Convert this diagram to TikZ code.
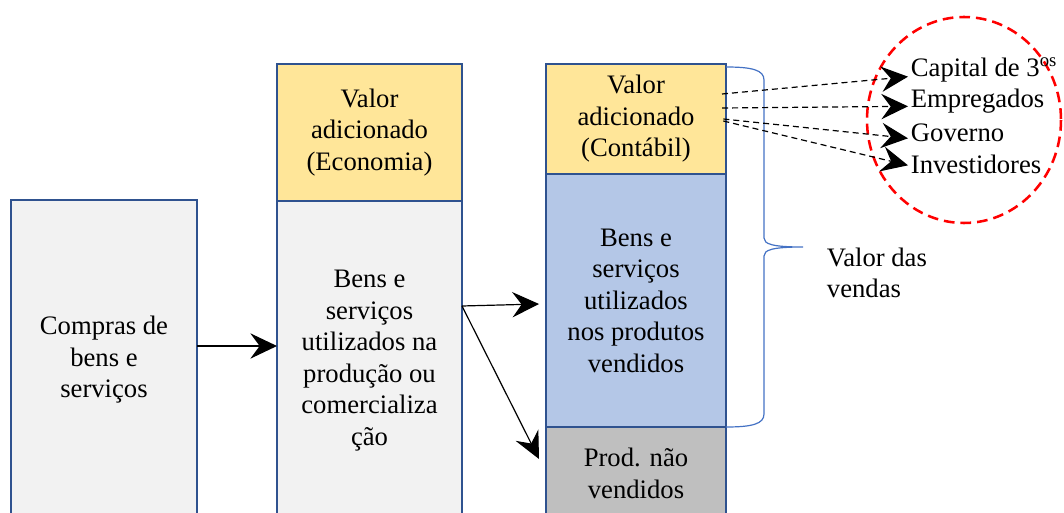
\documentclass[tikz,border=0pt]{standalone}
\usepackage{fontspec}
\setmainfont{Liberation Serif}
\newfontfamily\timesface{Liberation Serif}
\usetikzlibrary{arrows.meta}

\definecolor{edgeblue}{HTML}{2F528F}
\definecolor{paleGray}{HTML}{F2F2F2}
\definecolor{vaYellow}{HTML}{FFE699}
\definecolor{usedBlue}{HTML}{B4C7E7}
\definecolor{stockGray}{HTML}{BFBFBF}
\definecolor{braceBlue}{HTML}{4472C4}

\tikzset{
  box/.style={draw=edgeblue, line width=1.8pt, rectangle, inner sep=0pt, outer sep=0pt,
    align=center, anchor=north west, font=\timesface\fontsize{20}{23.6}\selectfont},
  arr/.style={-{Stealth[length=20pt,width=19pt,inset=7pt]}, line width=0.9pt},
  darr/.style={arr, dash pattern=on 4.5pt off 3pt},
  sideText/.style={anchor=west, inner sep=2pt, font=\timesface\fontsize{20}{23.6}\selectfont},
}

\begin{document}
\begin{tikzpicture}[x=0.75pt, y=-0.75pt]
\useasboundingbox (0,0) rectangle (1064,513);
\clip (0,0) rectangle (1064,513);

% boxes
\node[box, fill=paleGray, minimum width=139.5pt, minimum height=240pt] (compras) at (11,200) {Compras de\\bens e\\serviços};
\node[box, fill=vaYellow, minimum width=138.75pt, minimum height=102.75pt] (vaEco) at (277,64) {Valor\\adicionado\\(Economia)};
\node[box, fill=paleGray, minimum width=138.75pt, minimum height=239.25pt] (bensEco) at (277,201) {Bens e\\serviços\\utilizados na\\produção ou\\comercializa\\ção};
\node[box, fill=vaYellow, minimum width=135pt, minimum height=82.5pt] (vaCont) at (546,64) {Valor\\adicionado\\(Contábil)};
\node[box, fill=usedBlue, minimum width=135pt, minimum height=189.75pt] (bensCont) at (546,174) {Bens e\\serviços\\utilizados\\nos produtos\\vendidos};
\node[box, fill=stockGray, minimum width=135pt, minimum height=69.75pt] (naoVend) at (546,427) {Prod. não\\vendidos};

% brace and sales value
\draw[braceBlue, line width=0.9pt] (726,67) .. controls (752,67) and (764,70) .. (764,80) -- (764,238)
  .. controls (764,244) and (772,247) .. (803,247) .. controls (772,247) and (764,250) .. (764,256)
  -- (764,414) .. controls (764,424) and (752,427) .. (726,427);
\node[sideText, align=left] (vendas) at (824,273) {Valor das\\vendas};

% destination of value added
\draw[red, line width=1.9pt, dash pattern=on 8pt off 4.5pt] (964,120) ellipse [x radius=97, y radius=103];
\node[sideText] (cap) at (908,70) {Capital de 3\textsuperscript{os}};
\node[sideText] (emp) at (908,101) {Empregados};
\node[sideText] (gov) at (908,133) {Governo};
\node[sideText] (inv) at (908,164) {Investidores};

\draw[darr] ([xshift=-3pt, yshift=18.75pt]vaCont.east) -- ([yshift=-5pt]cap.west);
\draw[darr] ([xshift=-3pt, yshift=8.25pt]vaCont.east) -- ([yshift=-4pt]emp.west);
\draw[darr] ([xshift=-2pt]vaCont.east) -- ([yshift=-4pt]gov.west);
\draw[darr] ([xshift=-2pt, yshift=-1.5pt]vaCont.east) -- ([yshift=-1pt]inv.west);

% flows
\coordinate (fork) at (bensEco.east |- 0,306);
\coordinate (toSold) at (539,304);
\coordinate (toStock) at (539,459);
\draw[arr] (compras.east |- 0,346) -- (bensEco.west |- 0,346);
\draw[arr] (fork) -- (toSold);
\draw[arr] (fork) -- (toStock);
\end{tikzpicture}
\end{document}
